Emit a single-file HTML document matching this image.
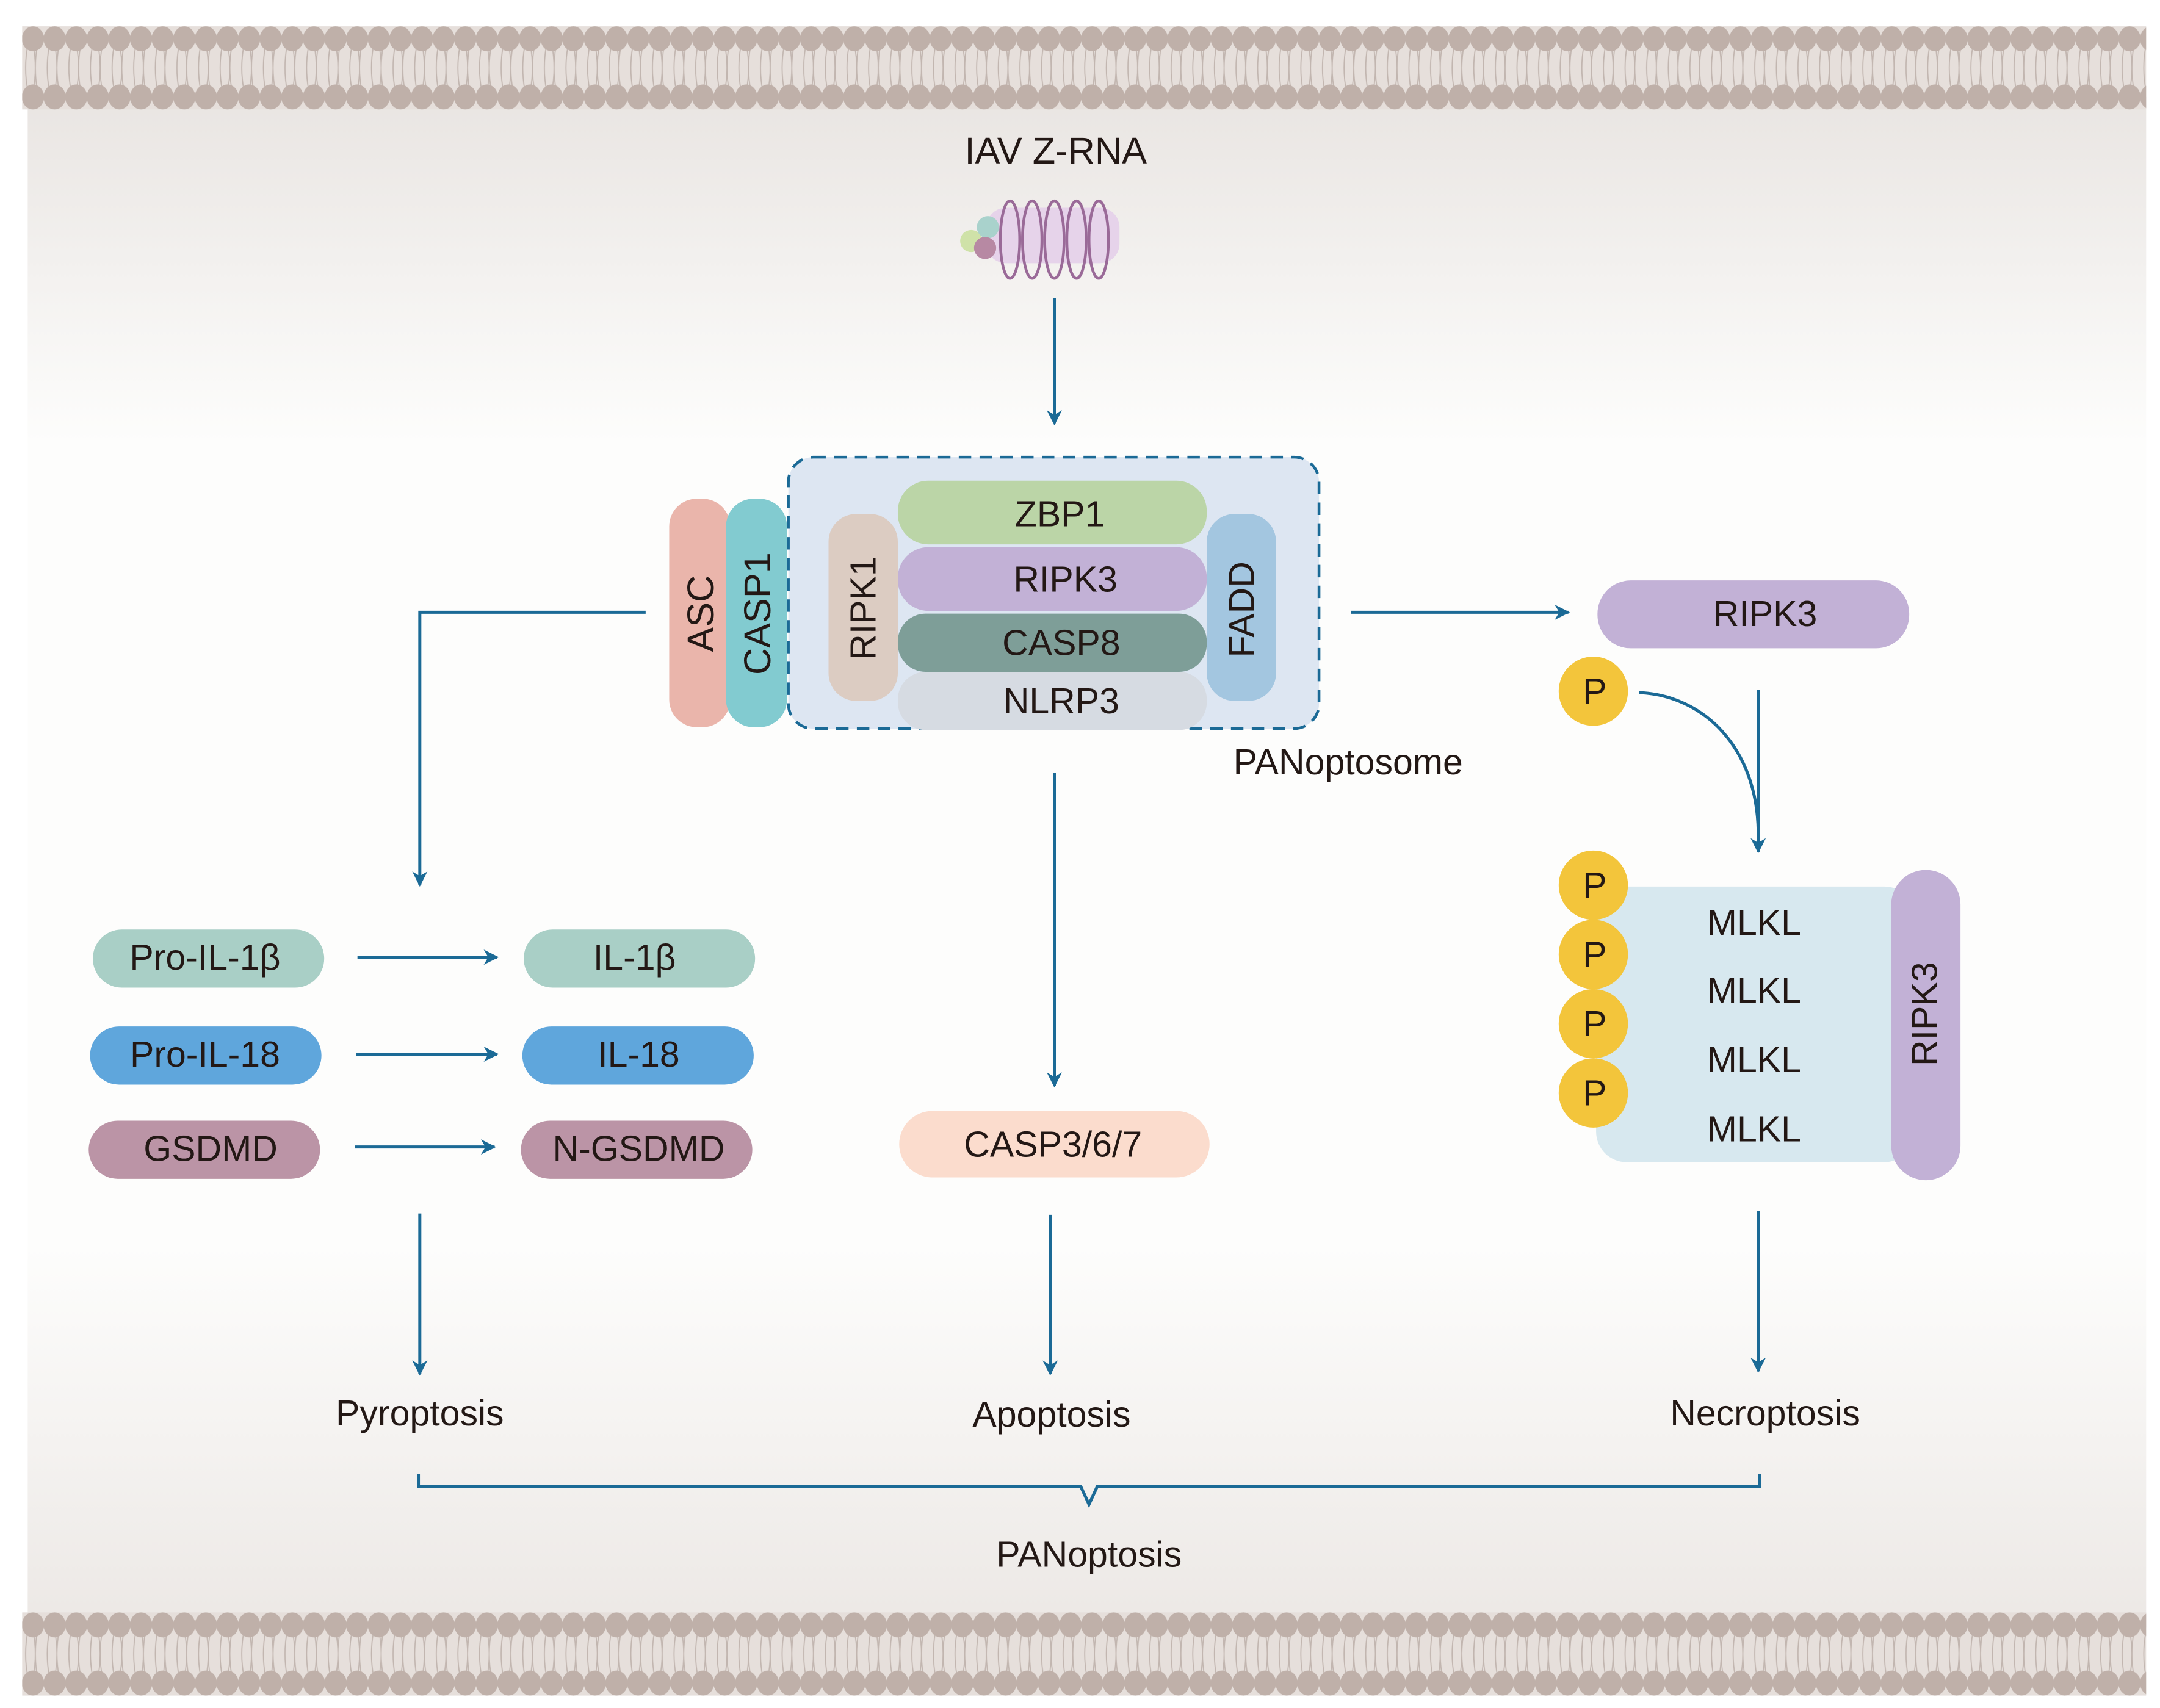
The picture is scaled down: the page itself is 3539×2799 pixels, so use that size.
<!DOCTYPE html>
<html><head><meta charset="utf-8">
<style>
html,body{margin:0;padding:0;background:#fff;}
svg{display:block;}
text{font-family:"Liberation Sans",Arial,sans-serif;fill:#231815;}
</style></head>
<body>
<svg width="3539" height="2799" viewBox="0 0 1559 1233" preserveAspectRatio="none" xmlns="http://www.w3.org/2000/svg">
<defs>
<linearGradient id="bgTop" x1="0" y1="0" x2="0" y2="1">
<stop offset="0" stop-color="#e9e5e2"/><stop offset="1" stop-color="#fdfdfc"/>
</linearGradient>
<linearGradient id="bgBot" x1="0" y1="0" x2="0" y2="1">
<stop offset="0" stop-color="#fdfdfc"/><stop offset="1" stop-color="#ece8e5"/>
</linearGradient>
<g id="tile">
<rect x="0" y="0" width="15.6" height="60" fill="#e6dfdb"/>
<path d="M4 14 q-3 16 0 32 M8 14 q3 16 0 32 M11 14 q-3 16 0 32" stroke="#c2b6b0" stroke-width="0.8" fill="none"/>
<ellipse cx="7.8" cy="9" rx="8" ry="9" fill="#bfb0a9"/>
<ellipse cx="7.8" cy="51" rx="8" ry="9" fill="#bfb0a9"/>
</g>
<pattern id="memT" x="16" y="19" width="15.6" height="60" patternUnits="userSpaceOnUse"><use href="#tile"/></pattern>
<pattern id="memB" x="16" y="1164" width="15.6" height="60" patternUnits="userSpaceOnUse"><use href="#tile"/></pattern>
<marker id="ar" viewBox="0 0 10 10" refX="9" refY="5" markerWidth="13" markerHeight="11" markerUnits="userSpaceOnUse" orient="auto">
<path d="M0 0 L10 5 L0 10 L3 5z" fill="#1b6a96"/>
</marker>
</defs>
<rect x="0" y="0" width="1559" height="1233" fill="#fff"/>
<rect x="20" y="70" width="1529" height="250" fill="url(#bgTop)"/>
<rect x="20" y="320" width="1529" height="580" fill="#fdfdfc"/>
<rect x="20" y="900" width="1529" height="275" fill="url(#bgBot)"/>
<rect x="16" y="19" width="1533" height="60" fill="url(#memT)"/>
<rect x="16" y="1164" width="1533" height="60" fill="url(#memB)"/>

<g stroke="#1b6a96" stroke-width="2.2" fill="none">
<line x1="761" y1="215" x2="761" y2="306" marker-end="url(#ar)"/>
<polyline points="466,442 303,442 303,639" marker-end="url(#ar)"/>
<line x1="975" y1="442" x2="1132" y2="442" marker-end="url(#ar)"/>
<line x1="761" y1="558" x2="761" y2="784" marker-end="url(#ar)"/>
<line x1="1269" y1="498" x2="1269" y2="615" marker-end="url(#ar)"/>
<path d="M1183 500 C1230 502 1268 540 1269 600"/>
<line x1="258" y1="691" x2="359" y2="691" marker-end="url(#ar)"/>
<line x1="257" y1="761" x2="359" y2="761" marker-end="url(#ar)"/>
<line x1="256" y1="828" x2="357" y2="828" marker-end="url(#ar)"/>
<line x1="303" y1="876" x2="303" y2="992" marker-end="url(#ar)"/>
<line x1="758" y1="877" x2="758" y2="992" marker-end="url(#ar)"/>
<line x1="1269" y1="874" x2="1269" y2="990" marker-end="url(#ar)"/>
<polyline points="302,1064 302,1073 780,1073 786,1086 792,1073 1270,1073 1270,1064"/>
</g>

<!-- virus -->
<g>
<rect x="712" y="150" width="96" height="40" rx="14" fill="#e6d3ea"/>
<circle cx="701" cy="174" r="8" fill="#cfe2a8"/>
<circle cx="713" cy="164" r="8" fill="#a9d2cc"/>
<circle cx="711" cy="179" r="8" fill="#b789a3"/>
<g stroke="#9a6a98" stroke-width="2" fill="none">
<ellipse cx="729" cy="173" rx="7" ry="28"/><ellipse cx="745" cy="173" rx="7" ry="28"/>
<ellipse cx="761" cy="173" rx="7" ry="28"/><ellipse cx="777" cy="173" rx="7" ry="28"/>
<ellipse cx="793" cy="173" rx="7" ry="28"/>
</g>
</g>
<text x="762" y="118" font-size="27" text-anchor="middle">IAV Z-RNA</text>

<!-- PANoptosome -->
<rect x="569" y="330" width="383" height="196" rx="18" fill="#dde6f2" stroke="#1b6a96" stroke-width="2" stroke-dasharray="9,6"/>
<rect x="483" y="360" width="44" height="165" rx="20" fill="#eab5ab"/>
<rect x="524" y="360" width="44" height="165" rx="20" fill="#82cbd0"/>
<rect x="598" y="371" width="50" height="135" rx="20" fill="#dcccc2"/>
<rect x="871" y="371" width="50" height="135" rx="20" fill="#a3c6e0"/>
<rect x="648" y="485" width="223" height="42" rx="20" fill="#d6dbe2"/>
<rect x="648" y="443" width="223" height="42" rx="20" fill="#7e9e98"/>
<rect x="648" y="395" width="223" height="46" rx="22" fill="#c2b1d6"/>
<rect x="648" y="347" width="223" height="46" rx="22" fill="#bbd5a7"/>
<g font-size="26" text-anchor="middle">
<text x="765" y="380">ZBP1</text>
<text x="769" y="427">RIPK3</text>
<text x="766" y="473">CASP8</text>
<text x="766" y="515">NLRP3</text>
<text transform="translate(515,443) rotate(-90)" font-size="27">ASC</text>
<text transform="translate(556,443) rotate(-90)" font-size="27">CASP1</text>
<text transform="translate(632,439) rotate(-90)">RIPK1</text>
<text transform="translate(905,440) rotate(-90)">FADD</text>
<text x="973" y="559">PANoptosome</text>
</g>

<!-- right -->
<rect x="1153" y="419" width="225" height="49" rx="24" fill="#c2b1d6"/>
<text x="1274" y="452" font-size="26" text-anchor="middle">RIPK3</text>
<circle cx="1150" cy="499" r="25" fill="#f3c53b"/>
<text x="1151" y="508" font-size="26" text-anchor="middle">P</text>
<rect x="1152" y="640" width="230" height="199" rx="22" fill="#d7e8ef"/>
<rect x="1365" y="628" width="50" height="224" rx="25" fill="#c2b1d6"/>
<circle cx="1150" cy="639" r="25" fill="#f3c53b"/>
<circle cx="1150" cy="689" r="25" fill="#f3c53b"/>
<circle cx="1150" cy="739" r="25" fill="#f3c53b"/>
<circle cx="1150" cy="789" r="25" fill="#f3c53b"/>
<g font-size="26" text-anchor="middle">
<text x="1151" y="648">P</text><text x="1151" y="698">P</text><text x="1151" y="748">P</text><text x="1151" y="798">P</text>
<text x="1266" y="675">MLKL</text><text x="1266" y="724">MLKL</text><text x="1266" y="774">MLKL</text><text x="1266" y="824">MLKL</text>
</g>
<text transform="translate(1398,732) rotate(-90)" font-size="26" text-anchor="middle">RIPK3</text>

<!-- left -->
<rect x="67" y="671" width="167" height="42" rx="21" fill="#a9cfc6"/>
<rect x="378" y="671" width="167" height="42" rx="21" fill="#a9cfc6"/>
<rect x="65" y="741" width="167" height="42" rx="21" fill="#5fa6dc"/>
<rect x="377" y="741" width="167" height="42" rx="21" fill="#5fa6dc"/>
<rect x="64" y="809" width="167" height="42" rx="21" fill="#bb94a6"/>
<rect x="376" y="809" width="167" height="42" rx="21" fill="#bb94a6"/>
<g font-size="26" text-anchor="middle">
<text x="148" y="700">Pro-IL-1β</text><text x="458" y="700">IL-1β</text>
<text x="148" y="770">Pro-IL-18</text><text x="461" y="770">IL-18</text>
<text x="152" y="838">GSDMD</text><text x="461" y="838">N-GSDMD</text>
</g>

<rect x="649" y="802" width="224" height="48" rx="24" fill="#fbdccd"/>
<text x="760" y="835" font-size="26" text-anchor="middle">CASP3/6/7</text>

<g font-size="26" text-anchor="middle">
<text x="303" y="1029">Pyroptosis</text>
<text x="759" y="1030">Apoptosis</text>
<text x="1274" y="1029">Necroptosis</text>
<text x="786" y="1131">PANoptosis</text>
</g>
</svg>
</body></html>
